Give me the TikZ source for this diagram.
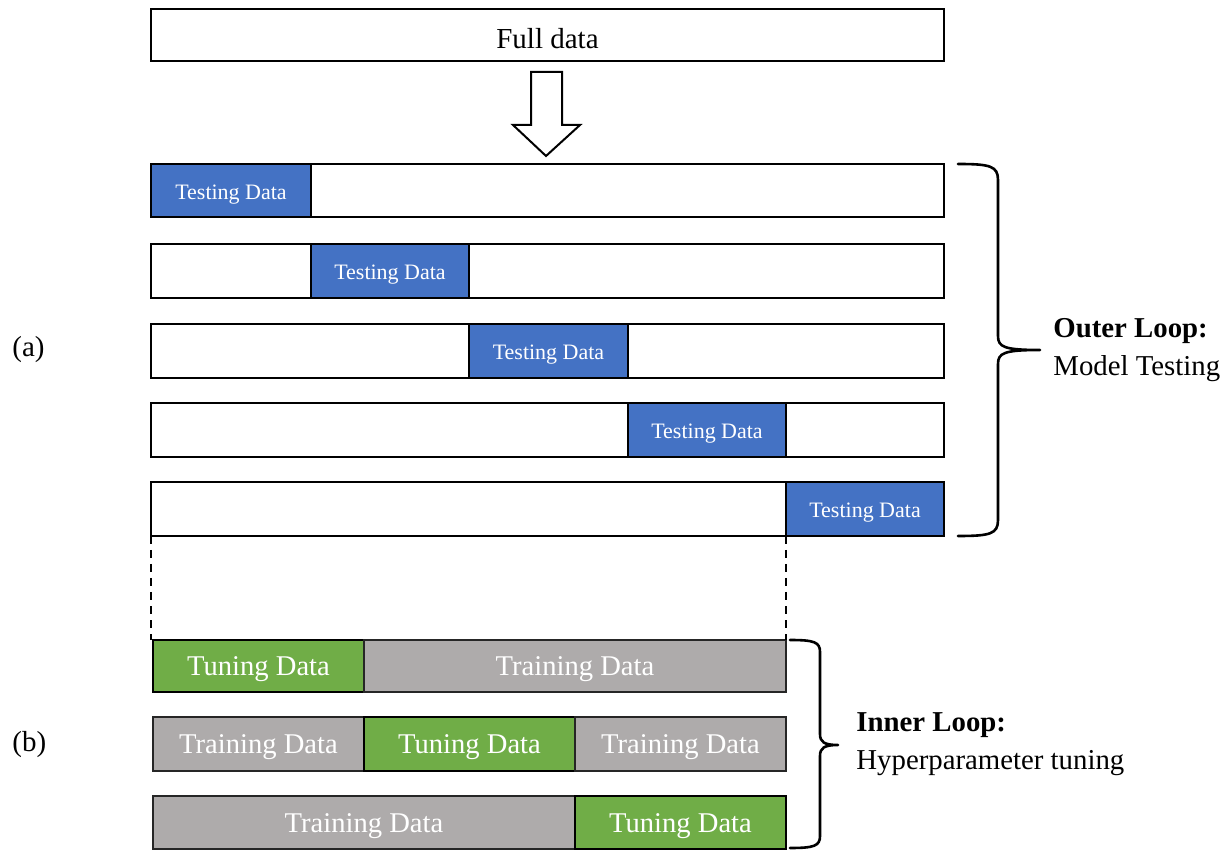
\documentclass[tikz,border=0pt]{standalone}
\usepackage{fontspec}
\setmainfont{Liberation Serif}
\usetikzlibrary{calc}

\definecolor{testblue}{HTML}{4472C4}
\definecolor{tunegreen}{HTML}{70AD47}
\definecolor{traingray}{HTML}{AEABAB}

% \blk{name}{x1}{y1}{x2}{y2}{style}{text}: a box spanning two corners (pixel grid, y down)
\newcommand\blk[7]{%
  \node[#6, anchor=north west, inner sep=0pt, outer sep=0pt,
        minimum width={(#4-#2)*0.5pt}, minimum height={(#5-#3)*0.5pt}]
        (#1) at (#2,#3) {\raisebox{-1.8pt}[\height][\depth]{#7}};}

\tikzset{
  plainbox/.style={draw=black, line width=1pt, fill=white},
  testbox/.style={draw=black, line width=1pt, fill=testblue, text=white,
                  font=\fontsize{11}{13}\selectfont},
  tunebox/.style={draw=black, line width=1pt, fill=tunegreen, text=white,
                  font=\fontsize{14.3}{16}\selectfont},
  trainbox/.style={draw=black!85, line width=1pt, fill=traingray, text=white,
                  font=\fontsize{14.3}{16}\selectfont},
  bracepath/.style={line width=1.3pt, line cap=round, line join=round},
  sidelabel/.style={anchor=west, align=left, inner sep=0pt,
                  font=\fontsize{14.4}{19}\selectfont},
  partlabel/.style={anchor=west, inner sep=0pt, font=\fontsize{14.5}{17}\selectfont},
}

\begin{document}
\begin{tikzpicture}[x=0.5pt, y=-0.5pt]
\useasboundingbox (0,0) rectangle (1230,854);

% full data set
\blk{full}{151}{9}{944}{61}{plainbox, font=\fontsize{14.5}{17}\selectfont}{Full data}

% block arrow pointing down to the folds
\coordinate (tip) at (546,156);
\draw[line width=1pt, fill=white, line join=miter]
  ($(tip)+(-15,-84)$) -- ($(tip)+(16,-84)$) -- ($(tip)+(16,-31)$) -- ($(tip)+(34,-31)$)
  -- (tip) -- ($(tip)+(-33,-31)$) -- ($(tip)+(-15,-31)$) -- cycle;

% outer loop: five folds, each with one testing block
\blk{o1}{151}{164}{944}{217}{plainbox}{}
\blk{t1}{151}{164}{311}{217}{testbox}{Testing Data}
\blk{o2}{151}{244}{944}{298}{plainbox}{}
\blk{t2}{311}{244}{469}{298}{testbox}{Testing Data}
\blk{o3}{151}{324}{944}{378}{plainbox}{}
\blk{t3}{469}{324}{628}{378}{testbox}{Testing Data}
\blk{o4}{151}{403}{944}{457}{plainbox}{}
\blk{t4}{628}{403}{786}{457}{testbox}{Testing Data}
\blk{o5}{151}{482}{944}{536}{plainbox}{}
\blk{t5}{786}{482}{944}{536}{testbox}{Testing Data}

% inner loop: the training part of the last fold split three ways
\blk{a1}{153}{640}{364}{692}{tunebox}{Tuning Data}
\blk{b1}{364}{640}{786}{692}{trainbox}{Training Data}
\blk{a2}{153}{717}{364}{771}{trainbox}{Training Data}
\blk{b2}{364}{717}{575}{771}{tunebox}{Tuning Data}
\blk{c2}{575}{717}{786}{771}{trainbox}{Training Data}
\blk{a3}{153}{796}{575}{849}{trainbox}{Training Data}
\blk{b3}{575}{796}{786}{849}{tunebox}{Tuning Data}

% dashed guides from the last fold down to the inner loop
\draw[dashed, line width=0.8pt, dash pattern=on 4pt off 3pt]
  (o5.south west) -- (o5.south west |- a1.north);
\draw[dashed, line width=0.8pt, dash pattern=on 4pt off 3pt]
  (t5.south west) -- (t5.south west |- b1.north);

% outer brace
\draw[bracepath]
  (958,164) .. controls (990,164) and (998,166) .. (998,180) -- (998,336)
  .. controls (998,347) and (1004,350) .. (1040,350)
  .. controls (1004,350) and (998,353) .. (998,364) -- (998,520)
  .. controls (998,534) and (990,536) .. (958,536);

% inner brace
\draw[bracepath]
  (790,640) .. controls (814,640) and (820,642) .. (820,652) -- (820,734)
  .. controls (820,742) and (824,745) .. (838,745)
  .. controls (824,745) and (820,748) .. (820,756) -- (820,836)
  .. controls (820,846) and (814,848) .. (790,848);

% labels
\node[sidelabel] (outer) at (1053,350) {\textbf{Outer Loop:}\\Model Testing};
\node[sidelabel] (inner) at (856,744) {\textbf{Inner Loop:}\\Hyperparameter tuning};
\node[partlabel] (pa) at (12,350) {(a)};
\node[partlabel] (pb) at (12,745) {(b)};
\end{tikzpicture}
\end{document}
